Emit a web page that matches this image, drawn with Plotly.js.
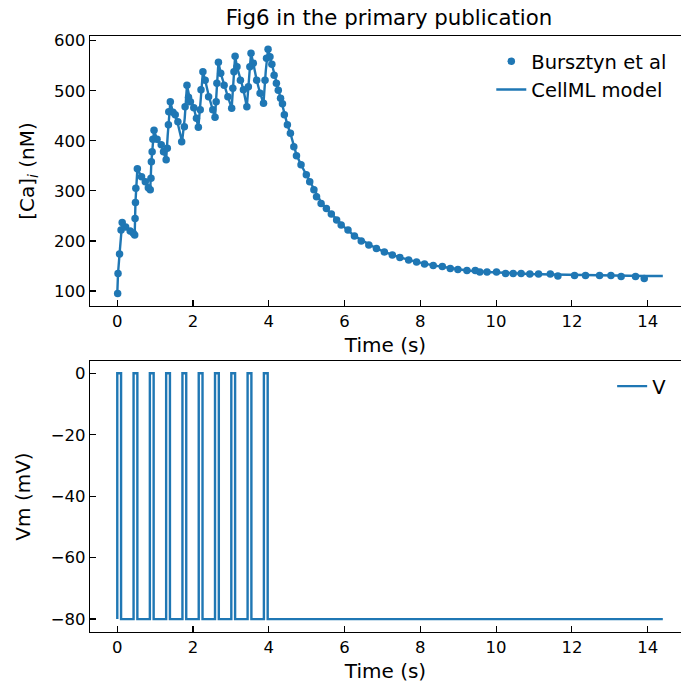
<!DOCTYPE html>
<html><head><meta charset="utf-8">
<script src="https://cdn.plot.ly/plotly-3.0.1.min.js"></script>
<style>html,body{margin:0;padding:0;background:#fff;overflow:hidden}</style>
</head><body><div id="chart" style="width:681px;height:688px"></div>
<script>
const expTime = [0.01,0.02,0.06,0.10,0.13,0.22,0.34,0.42,0.46,
  0.47,0.48,0.49,0.53,0.64,0.74,0.82,0.87,
  0.89,0.90,0.92,0.94,0.97,1.05,1.16,1.22,1.29,
  1.32,1.35,1.36,1.40,1.47,1.53,1.60,1.70,
  1.77,1.79,1.84,1.88,1.93,2.02,2.09,2.14,
  2.19,2.21,2.26,2.32,2.41,2.52,2.58,
  2.61,2.63,2.67,2.73,2.82,2.92,3.02,
  3.05,3.08,3.11,3.16,3.25,3.33,3.42,
  3.46,3.50,3.53,3.59,3.68,3.77,3.86,
  3.90,3.94,3.98,4.03,4.08,
  4.14,4.20,4.25,4.31,4.36,4.41,4.49,4.57,4.66,4.73,4.85,4.99,5.08,5.19,5.26,5.38,5.52,5.65,5.79,5.91,
  6.09,6.26,6.44,6.64,6.84,7.05,7.26,7.46,7.69,7.90,8.11,8.34,8.58,8.79,8.99,9.23,9.45,9.57,9.76,
  10.01,10.25,10.45,10.66,10.89,11.12,11.43,11.63,12.07,12.36,12.73,13.03,13.30,13.68,13.91];
const expCa = [95,135,174,222,237,228,220,216,212,
  245,277,305,344,328,318,306,302,
  325,358,378,403,421,403,392,378,362,
  385,432,458,478,457,452,438,398,
  428,468,511,487,478,466,445,427,
  462,502,538,521,488,462,447,
  478,515,557,535,511,488,465,
  505,538,569,548,521,502,468,
  508,548,575,555,521,495,475,
  521,565,583,568,553,
  531,515,501,485,474,452,432,415,388,370,352,332,318,302,288,275,265,254,242,232,
  222,210,200,192,185,178,172,167,162,158,154,151,149,145,143,141,141,138,138,
  138,135,135,135,134,134,134,130,131,131,131,131,129,129,125];

// CellML model output
const modelTime = [0,0.02,0.06,0.10,0.13,0.22,0.34,0.46,
  0.48,0.53,0.64,0.74,0.87,
  0.90,0.97,1.05,1.16,1.29,
  1.33,1.40,1.47,1.58,1.71,
  1.78,1.84,1.93,2.02,2.14,
  2.20,2.26,2.32,2.42,2.58,
  2.62,2.67,2.73,2.82,2.92,3.02,
  3.07,3.11,3.16,3.25,3.33,3.42,
  3.48,3.53,3.59,3.68,3.77,3.86,
  3.92,3.98,4.03,4.08,4.14,4.20,4.31,4.41,4.49,4.57,4.66,4.73,4.85,5.00,5.19,5.38,5.52,5.65,5.79,
  6.00,6.26,6.50,6.84,7.05,7.46,7.90,8.34,8.79,9.23,9.76,10.25,10.89,11.50,12.07,12.73,13.30,13.91,14.40];
const modelCa = [95,135,174,222,237,228,220,212,
  277,344,328,318,302,
  358,421,403,392,362,
  410,478,457,440,398,
  445,511,478,466,427,
  480,538,521,488,447,
  495,557,535,511,488,465,
  520,569,548,521,502,468,
  528,575,555,521,495,475,
  540,583,568,553,531,515,485,455,432,415,390,372,352,330,302,277,264,254,242,
  227,210,199,185,178,167,158,151,146,141,138,136,134,133,132,131,130,130,130];

// Stimulus protocol (membrane potential)
const pulseStart = [0,0.43,0.86,1.29,1.72,2.15,2.58,3.01,3.44,3.87];
const pulseWidth = 0.1;
const vRest = -80;
const vPulse = 0;
const simEnd = 14.4;

const xTicks = [0,2,4,6,8,10,12,14];
const caTicks = [100,200,300,400,500,600];
const vTicks = [-80,-60,-40,-20,0];

const vTime = [], vValue = [];
pulseStart.forEach(s => {
  vTime.push(s, s, s + pulseWidth, s + pulseWidth);
  vValue.push(vRest, vPulse, vPulse, vRest);
});
vTime.push(simEnd); vValue.push(vRest);

const blue = '#1f77b4';
const FONT = 'DejaVu Sans, sans-serif';

const traces = [
  {x: expTime, y: expCa, mode: 'markers', type: 'scatter', name: 'Bursztyn et al',
   marker: {color: blue, size: 7.5}, xaxis: 'x', yaxis: 'y', legend: 'legend'},
  {x: modelTime, y: modelCa, mode: 'lines', type: 'scatter', name: 'CellML model',
   line: {color: blue, width: 2.4}, xaxis: 'x', yaxis: 'y', legend: 'legend'},
  {x: vTime, y: vValue, mode: 'lines', type: 'scatter', name: 'V',
   line: {color: blue, width: 2.4}, xaxis: 'x2', yaxis: 'y2', legend: 'legend2'}
];

const axCommon = {
  showline: true, linecolor: '#000', linewidth: 1.2, ticks: 'inside', ticklen: 6,
  tickcolor: '#000', tickwidth: 1.2, showgrid: false, zeroline: false,
  tickfont: {family: FONT, size: 16.5, color: '#000'}, automargin: false
};
const xRange = [-0.72, 14.88];
const titleFont = {family: FONT, size: 20, color: '#000'};

const layout = {
  width: 681, height: 688,
  margin: {l: 90, r: 0, t: 36, b: 56},
  paper_bgcolor: '#fff', plot_bgcolor: '#fff',
  font: {family: FONT, color: '#000'},
  title: {text: 'Fig6 in the primary publication', font: {family: FONT, size: 21.3, color: '#000'},
          x: 0.506, xanchor: 'center', y: 1 - 18 / 688, yanchor: 'middle', xref: 'paper'},
  xaxis: Object.assign({}, axCommon, {domain: [0, 1], anchor: 'y', range: xRange, tickvals: xTicks,
    mirror: true, title: {text: 'Time (s)', font: titleFont, standoff: 8}}),
  yaxis: Object.assign({}, axCommon, {domain: [0.547, 1], anchor: 'x', range: [70, 609.4], tickvals: caTicks,
    title: {text: '[Ca]<sub><i>i</i></sub> (nM)', font: titleFont, standoff: 14}}),
  xaxis2: Object.assign({}, axCommon, {domain: [0, 1], anchor: 'y2', range: xRange, tickvals: xTicks,
    mirror: true, title: {text: 'Time (s)', font: titleFont, standoff: 8}}),
  yaxis2: Object.assign({}, axCommon, {domain: [0, 0.4547], anchor: 'x2', range: [-84.2, 4.0], tickvals: vTicks,
    title: {text: 'Vm (mV)', font: titleFont, standoff: 14}}),
  legend: {x: 0.679, xanchor: 'left', y: 1 - 6 / 596, yanchor: 'top', bgcolor: 'rgba(0,0,0,0)',
    font: {family: FONT, size: 19.5, color: '#000'}, borderwidth: 0},
  legend2: {x: 0.8835, xanchor: 'left', y: 0.4547 - 6 / 596, yanchor: 'top', bgcolor: 'rgba(0,0,0,0)',
    font: {family: FONT, size: 19.5, color: '#000'}, borderwidth: 0},
  showlegend: true
};

Plotly.newPlot('chart', traces, layout, {displayModeBar: false, staticPlot: true});
</script></body></html>
